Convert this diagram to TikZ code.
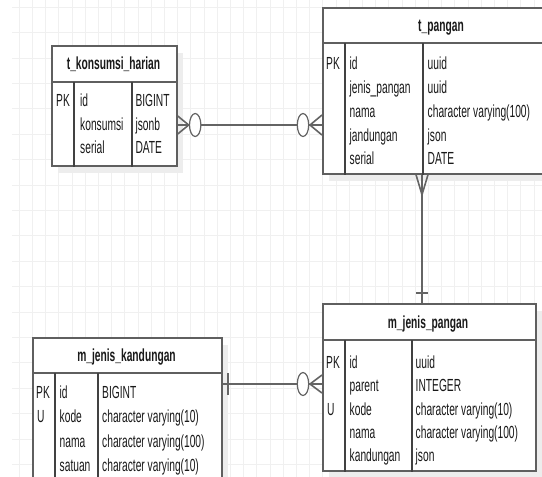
\documentclass[tikz,border=0pt]{standalone}
\usepackage{fontspec}
\newfontfamily\erfont{Liberation Sans}[FakeStretch=0.585]
\definecolor{erline}{RGB}{95,95,95}
\definecolor{ercol}{RGB}{65,65,65}
\definecolor{erlinkc}{RGB}{100,100,100}
\definecolor{ergrid}{RGB}{240,240,240}
\definecolor{ershadow}{RGB}{237,237,237}
\definecolor{ertext}{RGB}{25,25,25}
\usetikzlibrary{calc, shadows}
\tikzset{
	tablebox/.style={rectangle, draw=erline, fill=white, line width=1.7pt, inner sep=0pt, anchor=north west, drop shadow={shadow xshift=6pt, shadow yshift=-7pt, fill=ershadow, opacity=1}},
	headline/.style={draw=erline, line width=1.7pt},
	colline/.style={draw=ercol, line width=1.1pt},
	titletext/.style={inner sep=0pt, text height=13pt, text depth=0pt, text=ertext, font=\erfont\fontsize{17.5pt}{20pt}\selectfont\bfseries},
	cell/.style={inner sep=0pt, anchor=west, text height=13pt, text depth=0pt, text=ertext, font=\erfont\fontsize{17.5pt}{20pt}\selectfont},
	erlink/.style={draw=erlinkc, line width=1.6pt},
	gridline/.style={draw=ergrid, line width=1pt},
}
\begin{document}
\begin{tikzpicture}[x=1pt, y=-1pt]
	\useasboundingbox (0,0) rectangle (542,477);
	\clip (0,0) rectangle (542,477);
	\fill[white] (0,0) rectangle (542,477);
	% background grid
	\foreach \gx in {0,...,39} \draw[gridline] (19.3+13.2*\gx,0) -- (19.3+13.2*\gx,477);
	\foreach \gy in {0,...,18} \draw[gridline] (12,7.2+25.4*\gy) -- (542,7.2+25.4*\gy);

	% t_konsumsi_harian
	\node[tablebox, minimum width=125pt, minimum height=120pt] (kons) at (51,45) {};
	\draw[headline] (kons.west |- 0,82) -- (kons.east |- 0,82);
	\draw[colline] (74,82) -- (kons.south -| 74,0);
	\draw[colline] (132,82) -- (kons.south -| 132,0);
	\node[titletext] (konstitle) at (113.5,63) {t\_konsumsi\_harian};
	\node[cell] (konspk) at (56,100) {PK};
	\foreach \nm/\ty [count=\i from 0] in {id/BIGINT, konsumsi/jsonb, serial/DATE} {
		\node[cell] (konsname\i) at (80,100+23.5*\i) {\nm};
		\node[cell] (konstype\i) at (135.3,100+23.5*\i) {\ty};
	}

	% t_pangan
	\node[tablebox, minimum width=238pt, minimum height=166pt] (pangan) at (322,7) {};
	\draw[headline] (pangan.west |- 0,43) -- (pangan.east |- 0,43);
	\draw[colline] (345,43) -- (pangan.south -| 345,0);
	\draw[colline] (423,43) -- (pangan.south -| 423,0);
	\node[titletext] (pangantitle) at (441,25) {t\_pangan};
	\node[cell] (panganpk) at (326,63.3) {PK};
	\foreach \nm/\ty [count=\i from 0] in {id/uuid, jenis\_pangan/uuid, nama/{character varying(100)}, jandungan/json, serial/DATE} {
		\node[cell] (panganname\i) at (349.5,63.3+23.75*\i) {\nm};
		\node[cell] (pangantype\i) at (427.5,63.3+23.75*\i) {\ty};
	}

	% m_jenis_pangan
	\node[tablebox, minimum width=213pt, minimum height=167pt] (mjp) at (322,303) {};
	\draw[headline] (mjp.west |- 0,340) -- (mjp.east |- 0,340);
	\draw[colline] (345,340) -- (mjp.south -| 345,0);
	\draw[colline] (412,340) -- (mjp.south -| 412,0);
	\node[titletext] (mjptitle) at (428,322) {m\_jenis\_pangan};
	\node[cell] (mjppk) at (326,362) {PK};
	\node[cell] (mjpu) at (327,408.5) {U};
	\foreach \nm/\ty [count=\i from 0] in {id/uuid, parent/INTEGER, kode/{character varying(10)}, nama/{character varying(100)}, kandungan/json} {
		\node[cell] (mjpname\i) at (349.5,362+23.25*\i) {\nm};
		\node[cell] (mjptype\i) at (415.5,362+23.25*\i) {\ty};
	}

	% m_jenis_kandungan
	\node[tablebox, minimum width=189pt, minimum height=160pt] (mjk) at (32,337) {};
	\draw[headline] (mjk.west |- 0,373) -- (mjk.east |- 0,373);
	\draw[colline] (55,373) -- (mjk.south -| 55,0);
	\draw[colline] (98,373) -- (mjk.south -| 98,0);
	\node[titletext] (mjktitle) at (126.5,355) {m\_jenis\_kandungan};
	\node[cell] (mjkpk) at (36,392) {PK};
	\node[cell] (mjku) at (37,416.3) {U};
	\foreach \nm/\ty [count=\i from 0] in {id/BIGINT, kode/{character varying(10)}, nama/{character varying(100)}, satuan/{character varying(10)}} {
		\node[cell] (mjkname\i) at (59.5,392+24.3*\i) {\nm};
		\node[cell] (mjktype\i) at (102,392+24.3*\i) {\ty};
	}

	% t_konsumsi_harian -- t_pangan
	\coordinate (k1) at (kons.east |- 0,125);
	\coordinate (p1) at (pangan.west |- 0,125);
	\draw[erlink] (k1) -- (p1);
	\draw[erlink] ($(k1)+(0,-9)$) -- ($(k1)+(11,0)$) -- ($(k1)+(0,9)$);
	\draw[erlink, fill=white, line width=1.2pt] ($(k1)+(17.5,0)$) ellipse [x radius=5.7pt, y radius=11.5pt];
	\draw[erlink] ($(p1)+(0,-10)$) -- ($(p1)+(-12,0)$) -- ($(p1)+(0,10)$);
	\draw[erlink, fill=white, line width=1.2pt] ($(p1)+(-19,0)$) ellipse [x radius=5.7pt, y radius=11.5pt];

	% t_pangan -- m_jenis_pangan
	\coordinate (p2) at (pangan.south -| 422,0);
	\coordinate (j2) at (mjp.north -| 422,0);
	\draw[erlink] (p2) -- (j2);
	\draw[erlink] ($(p2)+(-6,0)$) -- ($(p2)+(0,20)$) -- ($(p2)+(6,0)$);
	\draw[erlink] ($(j2)+(-6,-10)$) -- ($(j2)+(6,-10)$);

	% m_jenis_kandungan -- m_jenis_pangan
	\coordinate (m3) at (mjk.east |- 0,384);
	\coordinate (j3) at (mjp.west |- 0,384);
	\draw[erlink] (m3) -- (j3);
	\draw[erlink] ($(m3)+(5,-11)$) -- ($(m3)+(5,11)$);
	\draw[erlink] ($(j3)+(0,-9)$) -- ($(j3)+(-12,0)$) -- ($(j3)+(0,9)$);
	\draw[erlink, fill=white, line width=1.2pt] ($(j3)+(-19,0)$) ellipse [x radius=5.7pt, y radius=11.5pt];
\end{tikzpicture}
\end{document}
